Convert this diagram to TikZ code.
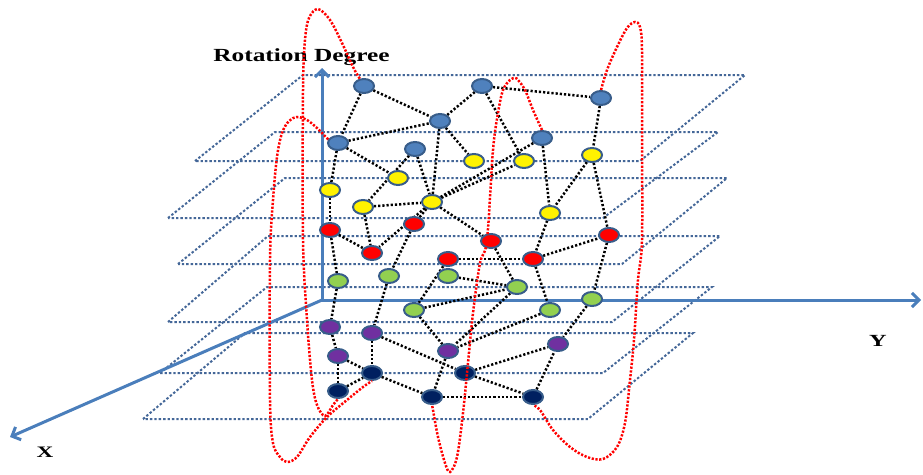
\documentclass[tikz,border=0pt]{standalone}
\usepackage{fontspec}
\setmainfont{Liberation Serif}
\usepackage{tikz}
\usetikzlibrary{shapes.geometric,arrows.meta,positioning,backgrounds}
\definecolor{axisblue}{RGB}{74,126,187}
\definecolor{planeblue}{RGB}{68,103,152}
\definecolor{rimblue}{RGB}{56,93,138}
\definecolor{ballblue}{RGB}{79,129,189}
\definecolor{ballgreen}{RGB}{146,208,80}
\definecolor{ballpurple}{RGB}{112,48,160}
\definecolor{ballnavy}{RGB}{0,32,96}

\begin{document}
\begin{tikzpicture}[
                x=1pt, y=-1pt,
                every node/.style={inner sep=0pt},
                plane/.style={draw=planeblue, line width=2pt, dash pattern=on 2.4pt off 2pt},
                axisline/.style={draw=axisblue, line width=3pt, -{Straight Barb[length=7pt,width=14pt]}},
                axislabel/.style={anchor=base, font=\bfseries},
                link/.style={draw=black, line width=2.5pt, dash pattern=on 2.2pt off 2pt},
                traj/.style={draw=red, line width=2.5pt, dash pattern=on 2.2pt off 1.6pt},
                ball/.style={ellipse, draw=rimblue, line width=2pt, minimum width=20pt, minimum height=14pt}
            ]
            \useasboundingbox (0,0) rectangle (923,474);

            % Nodes
            \node[ball, fill=ballblue] (b1) at (364,86) {};
            \node[ball, fill=ballblue] (b2) at (440,121) {};
            \node[ball, fill=ballblue] (b3) at (482,86) {};
            \node[ball, fill=ballblue] (b4) at (601,98) {};
            \node[ball, fill=ballblue] (b5) at (415,149) {};
            \node[ball, fill=ballblue] (b6) at (338,143) {};
            \node[ball, fill=ballblue] (b7) at (542,138) {};

            \node[ball, fill=yellow] (y1) at (330,190) {};
            \node[ball, fill=yellow] (y2) at (398,178) {};
            \node[ball, fill=yellow] (y3) at (363,207) {};
            \node[ball, fill=yellow] (y4) at (432,202) {};
            \node[ball, fill=yellow] (y5) at (474,161) {};
            \node[ball, fill=yellow] (y6) at (524,161) {};
            \node[ball, fill=yellow] (y7) at (592,155) {};
            \node[ball, fill=yellow] (y8) at (550,213) {};

            \node[ball, fill=red] (r1) at (330,230) {};
            \node[ball, fill=red] (r2) at (414,224) {};
            \node[ball, fill=red] (r3) at (372,253) {};
            \node[ball, fill=red] (r4) at (448,259) {};
            \node[ball, fill=red] (r5) at (491,241) {};
            \node[ball, fill=red] (r6) at (533,259) {};
            \node[ball, fill=red] (r7) at (609,235) {};

            \node[ball, fill=ballgreen] (g1) at (338,281) {};
            \node[ball, fill=ballgreen] (g2) at (389,276) {};
            \node[ball, fill=ballgreen] (g3) at (448,276) {};
            \node[ball, fill=ballgreen] (g4) at (517,287) {};
            \node[ball, fill=ballgreen] (g5) at (414,310) {};
            \node[ball, fill=ballgreen] (g6) at (550,310) {};
            \node[ball, fill=ballgreen] (g7) at (592,299) {};

            \node[ball, fill=ballpurple] (p1) at (330,327) {};
            \node[ball, fill=ballpurple] (p2) at (372,333) {};
            \node[ball, fill=ballpurple] (p3) at (338,356) {};
            \node[ball, fill=ballpurple] (p4) at (448,351) {};
            \node[ball, fill=ballpurple] (p5) at (558,344) {};

            \node[ball, fill=ballnavy] (n1) at (372,373) {};
            \node[ball, fill=ballnavy] (n2) at (465,373) {};
            \node[ball, fill=ballnavy] (n3) at (338,391) {};
            \node[ball, fill=ballnavy] (n4) at (432,397) {};
            \node[ball, fill=ballnavy] (n5) at (533,397) {};

            \begin{scope}[on background layer]
            % Planes
            \draw[plane] (195,161) -- (303,75) -- (745,75) -- (640,161) -- cycle;
            \draw[plane] (168,218) -- (275,132) -- (718,132) -- (603,218) -- cycle;
            \draw[plane] (178,264) -- (285,178) -- (727,178) -- (622,264) -- cycle;
            \draw[plane] (168,322) -- (268,236) -- (720,236) -- (612,322) -- cycle;
            \draw[plane] (160,373) -- (267,287) -- (712,287) -- (603,373) -- cycle;
            \draw[plane] (143,419) -- (245,333) -- (693,333) -- (588,419) -- cycle;

            % Axes
            \coordinate (origin) at (322,300);
            \coordinate (xend) at (10,437);
            \coordinate (yend) at (921,300);
            \coordinate (zend) at (322,68);
            \draw[axisline] (origin) -- (zend);
            \draw[axisline] (origin) -- (yend);
            \draw[axisline] (origin) -- (xend);

            % Links
            \draw[link] (b1) -- (b2);  \draw[link] (b1) -- (b6);  \draw[link] (b6) -- (b2);
            \draw[link] (b2) -- (b3);  \draw[link] (b3) -- (b4);  \draw[link] (b3) -- (y6);
            \draw[link] (b4) -- (y7);  \draw[link] (b6) -- (y2);  \draw[link] (b2) -- (y5);
            \draw[link] (b2) -- (y4);  \draw[link] (b5) -- (y4);  \draw[link] (b5) -- (y3);
            \draw[link] (b6) -- (y1);  \draw[link] (b7) -- (y8);  \draw[link] (y4) -- (y6);
            \draw[link] (y4) -- (b7);  \draw[link] (y1) -- (r1);  \draw[link] (y3) -- (y4);
            \draw[link] (y3) -- (r3);  \draw[link] (y4) -- (r3);  \draw[link] (y4) -- (r5);
            \draw[link] (y7) -- (y8);  \draw[link] (y7) -- (r7);  \draw[link] (y8) -- (r6);
            \draw[link] (r1) -- (r3);  \draw[link] (r2) -- (g2);  \draw[link] (g2) -- (p2);
            \draw[link] (r2) -- (y4);  \draw[link] (r4) -- (r6);  \draw[link] (r4) -- (g5);
            \draw[link] (r5) -- (g4);  \draw[link] (r6) -- (r7);  \draw[link] (r6) -- (g6);
            \draw[link] (r7) -- (g7);  \draw[link] (r1) -- (g1);  \draw[link] (g1) -- (p1);
            \draw[link] (g3) -- (g4);  \draw[link] (g5) -- (g4);  \draw[link] (g5) -- (p4);
            \draw[link] (g4) -- (p4);  \draw[link] (g6) -- (p4);  \draw[link] (g7) -- (p5);
            \draw[link] (p1) -- (p3);  \draw[link] (p2) -- (n1);  \draw[link] (p2) -- (n2);
            \draw[link] (p3) -- (n1);  \draw[link] (p3) -- (n3);  \draw[link] (n3) -- (n1);
            \draw[link] (n1) -- (n4);  \draw[link] (p4) -- (n4);  \draw[link] (n4) -- (n5);
            \draw[link] (n2) -- (p5);  \draw[link] (n2) -- (n5);  \draw[link] (n5) -- (p5);
            \end{scope}

            % Labels
            \node[axislabel] (rotlabel) at (301.5,61) {\scalebox{1.37}[1]{\fontsize{18.5}{20}\selectfont Rotation Degree}};
            \node[axislabel] (xlabel) at (45,457) {\scalebox{1.45}[1]{\fontsize{16}{17}\selectfont X}};
            \node[axislabel] (ylabel) at (878,346) {\scalebox{1.43}[1]{\fontsize{17}{18}\selectfont Y}};

            % Trajectories
            \draw[traj] plot[smooth, tension=0.55] coordinates {(b1.120) (353,67) (342,43) (330,20) (318,9) (309,18) (305,40) (303,90) (303,240) (307,320) (312,380) (317,405) (325,416) (333,405) (n3.south)};
            \draw[traj] plot[smooth, tension=0.55] coordinates {(b6.160) (317,128) (307,120) (297,117) (289,121) (282,133) (277,157) (273,200) (270,260) (270,400) (273,443) (280,457) (287,462) (297,457) (310,437) (327,417) (347,400) (363,387) (n1.south)};
            \draw[traj] plot[smooth, tension=0.55] coordinates {(b7.north) (533,110) (525,90) (518,80) (515,78) (510,80) (503,90) (498,113) (493,150) (487,240) (480,263) (473,313) (468,363) (463,413) (457,457) (450,472) (445,463) (438,437) (433,410) (n4.south)};
            \draw[traj] plot[smooth, tension=0.55] coordinates {(b4.north) (607,70) (617,47) (627,28) (635,22) (640,27) (642,50) (642,133) (642,240) (638,280) (634,340) (630,380) (625,423) (617,447) (603,459) (587,457) (570,447) (553,430) (540,410) (n5.south)};

            \end{tikzpicture}
\end{document}
